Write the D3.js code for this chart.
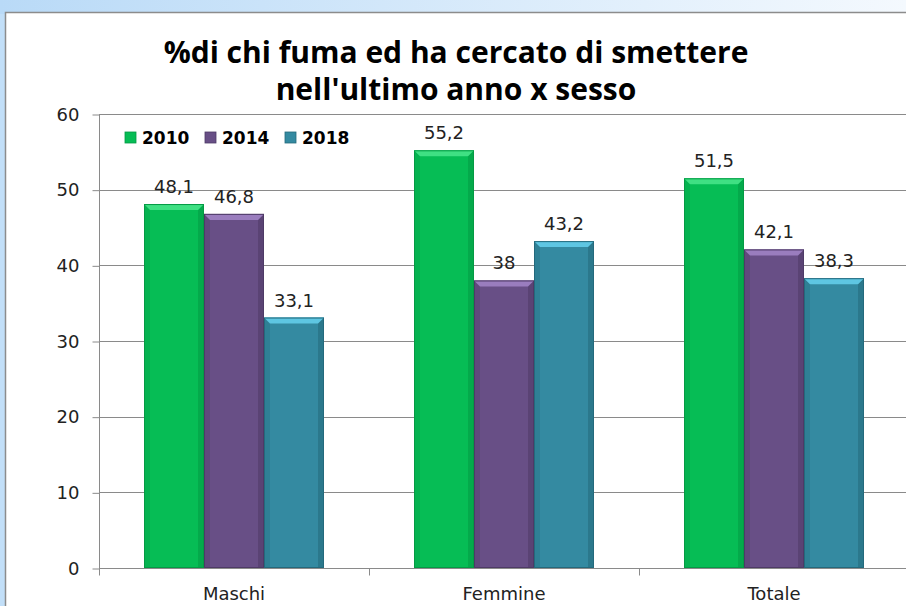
<!DOCTYPE html>
<html>
<head>
<meta charset="utf-8">
<script src="https://cdn.jsdelivr.net/npm/d3@7"></script>
<style>
  html, body { margin: 0; padding: 0; background: #fff; }
  svg { display: block; }
</style>
</head>
<body>
<svg id="chart" width="906" height="606"></svg>
<script>
/* ------------------ data ------------------ */

const categories = ["Maschi", "Femmine", "Totale"];
const years = ["2010", "2014", "2018"];
const values2010 = [48.1, 55.2, 51.5];
const values2014 = [46.8, 38, 42.1];
const values2018 = [33.1, 43.2, 38.3];
const yTicks = [0, 10, 20, 30, 40, 50, 60];

/* ------------------ constants ------------------ */

const W = 906, H = 606;
const PLOT = { left: 99, right: 909, top: 114, bottom: 568 };
const COLORS = {
  "2010": { base: "#06BD55", light: "#3FE083", dark: "#049A44" },
  "2014": { base: "#684F86", light: "#9A7DBE", dark: "#4E3A66" },
  "2018": { base: "#348AA1", light: "#5EC6E2", dark: "#24697C" }
};
const FONT = "'DejaVu Sans', Verdana, sans-serif";
const TITLE_FONT = "'Open Sans', 'Noto Sans', sans-serif";

const series = years.map((y, i) => ({
  year: y,
  values: [values2010, values2014, values2018][i]
}));

const svg = d3.select("#chart");

/* ------------------ background & frame ------------------ */

const defs = svg.append("defs");
const topGrad = defs.append("linearGradient").attr("id", "topGrad");
topGrad.append("stop").attr("offset", "0%").attr("stop-color", "#B9DAF7");
topGrad.append("stop").attr("offset", "100%").attr("stop-color", "#F4F9FE");

svg.append("rect").attr("width", W).attr("height", H).attr("fill", "#C2DFF8");
svg.append("rect").attr("width", W).attr("height", 14).attr("fill", "url(#topGrad)");
svg.append("rect")
  .attr("x", 5.5).attr("y", 12.5)
  .attr("width", W + 10).attr("height", H + 10)
  .attr("fill", "#fff")
  .attr("stroke", "#8C8C8C")
  .attr("stroke-width", 1.5);

/* ------------------ scales ------------------ */

const x0 = d3.scaleBand()
  .domain(categories)
  .range([PLOT.left, PLOT.right])
  .paddingInner(0)
  .paddingOuter(0);

const x1 = d3.scaleBand()
  .domain(years)
  .range([0, x0.bandwidth()])
  .paddingOuter(0.75)
  .paddingInner(0);

const y = d3.scaleLinear().domain([0, 60]).range([PLOT.bottom, PLOT.top]);

/* ------------------ grid & axes ------------------ */

svg.append("g")
  .selectAll("line")
  .data(yTicks.filter(d => d > 0))
  .join("line")
  .attr("x1", PLOT.left).attr("x2", W)
  .attr("y1", d => Math.round(y(d)) + 0.5)
  .attr("y2", d => Math.round(y(d)) + 0.5)
  .attr("stroke", "#8A8A8A")
  .attr("stroke-width", 1);

const yAxis = svg.append("g")
  .attr("transform", `translate(${PLOT.left + 0.5},0.5)`)
  .call(d3.axisLeft(y).tickValues(yTicks).tickSize(7).tickPadding(13).tickFormat(d3.format("d")));
yAxis.select(".domain").attr("stroke", "#8A8A8A").attr("d", `M0,${PLOT.top}V${PLOT.bottom + 7}`);
yAxis.selectAll(".tick line").attr("stroke", "#8A8A8A");
yAxis.selectAll(".tick text")
  .attr("font-family", FONT).attr("font-size", 18).attr("fill", "#222");

const xAxis = svg.append("g")
  .attr("transform", `translate(0,${Math.round(PLOT.bottom) + 0.5})`);
xAxis.append("line")
  .attr("x1", PLOT.left).attr("x2", W)
  .attr("stroke", "#8A8A8A");
xAxis.selectAll("line.tk")
  .data(categories.slice(1))
  .join("line")
  .attr("class", "tk")
  .attr("x1", d => Math.round(x0(d)) + 0.5)
  .attr("x2", d => Math.round(x0(d)) + 0.5)
  .attr("y1", 0).attr("y2", 7)
  .attr("stroke", "#8A8A8A");
xAxis.selectAll("text")
  .data(categories)
  .join("text")
  .attr("x", d => x0(d) + x0.bandwidth() / 2)
  .attr("y", 31)
  .attr("text-anchor", "middle")
  .attr("font-family", FONT).attr("font-size", 18).attr("fill", "#222")
  .text(d => d);

/* ------------------ bars ------------------ */

const bars = [];
categories.forEach((c, ci) => {
  series.forEach(s => {
    bars.push({ cat: c, year: s.year, value: s.values[ci] });
  });
});

const barG = svg.append("g")
  .selectAll("g.bar")
  .data(bars)
  .join("g")
  .attr("class", "bar")
  .attr("transform", d => `translate(${x0(d.cat) + x1(d.year)},0)`);

const bw = x1.bandwidth();
const bev = 6;

barG.append("rect")
  .attr("x", 0).attr("y", d => y(d.value))
  .attr("width", bw).attr("height", d => y(0) - y(d.value))
  .attr("fill", d => COLORS[d.year].base);

// side bevels
barG.append("path")
  .attr("d", d => `M0,${y(d.value)}L${bev},${y(d.value) + bev}V${y(0)}H0Z`)
  .attr("fill", d => COLORS[d.year].dark)
  .attr("opacity", 0.3);
barG.append("path")
  .attr("d", d => `M${bw},${y(d.value)}L${bw - bev},${y(d.value) + bev}V${y(0)}H${bw}Z`)
  .attr("fill", d => COLORS[d.year].dark)
  .attr("opacity", 0.55);
// top bevel
barG.append("path")
  .attr("d", d => `M0,${y(d.value)}H${bw}L${bw - bev},${y(d.value) + bev}H${bev}Z`)
  .attr("fill", d => COLORS[d.year].light);
// outline
barG.append("rect")
  .attr("x", 0.5).attr("y", d => y(d.value) + 0.5)
  .attr("width", bw - 1).attr("height", d => y(0) - y(d.value) - 1)
  .attr("fill", "none")
  .attr("stroke", d => COLORS[d.year].dark)
  .attr("stroke-width", 1);

// value labels
barG.append("text")
  .attr("x", bw / 2)
  .attr("y", d => y(d.value) - 11)
  .attr("text-anchor", "middle")
  .attr("font-family", FONT).attr("font-size", 18).attr("fill", "#222")
  .text(d => String(d.value).replace(".", ","));

/* ------------------ title ------------------ */

const title = svg.append("text")
  .attr("text-anchor", "middle")
  .attr("font-family", TITLE_FONT)
  .attr("font-weight", "bold")
  .attr("font-size", 30)
  .attr("fill", "#000");
title.append("tspan").attr("x", 456).attr("y", 63).text("%di chi fuma ed ha cercato di smettere");
title.append("tspan").attr("x", 456).attr("y", 100).text("nell'ultimo anno x sesso");

/* ------------------ legend ------------------ */

const legend = svg.append("g").attr("transform", "translate(125,137)");
const legendX = [0, 80, 160];
const item = legend.selectAll("g")
  .data(years)
  .join("g")
  .attr("transform", (d, i) => `translate(${legendX[i]},0)`);
item.append("rect")
  .attr("x", 0).attr("y", -5)
  .attr("width", 11).attr("height", 11)
  .attr("fill", d => COLORS[d].base)
  .attr("stroke", d => COLORS[d].dark)
  .attr("stroke-width", 0.8);
item.append("text")
  .attr("x", 17).attr("y", 7)
  .attr("font-family", FONT).attr("font-weight", "bold")
  .attr("font-size", 17).attr("fill", "#000")
  .text(d => d);
</script>
</body>
</html>
